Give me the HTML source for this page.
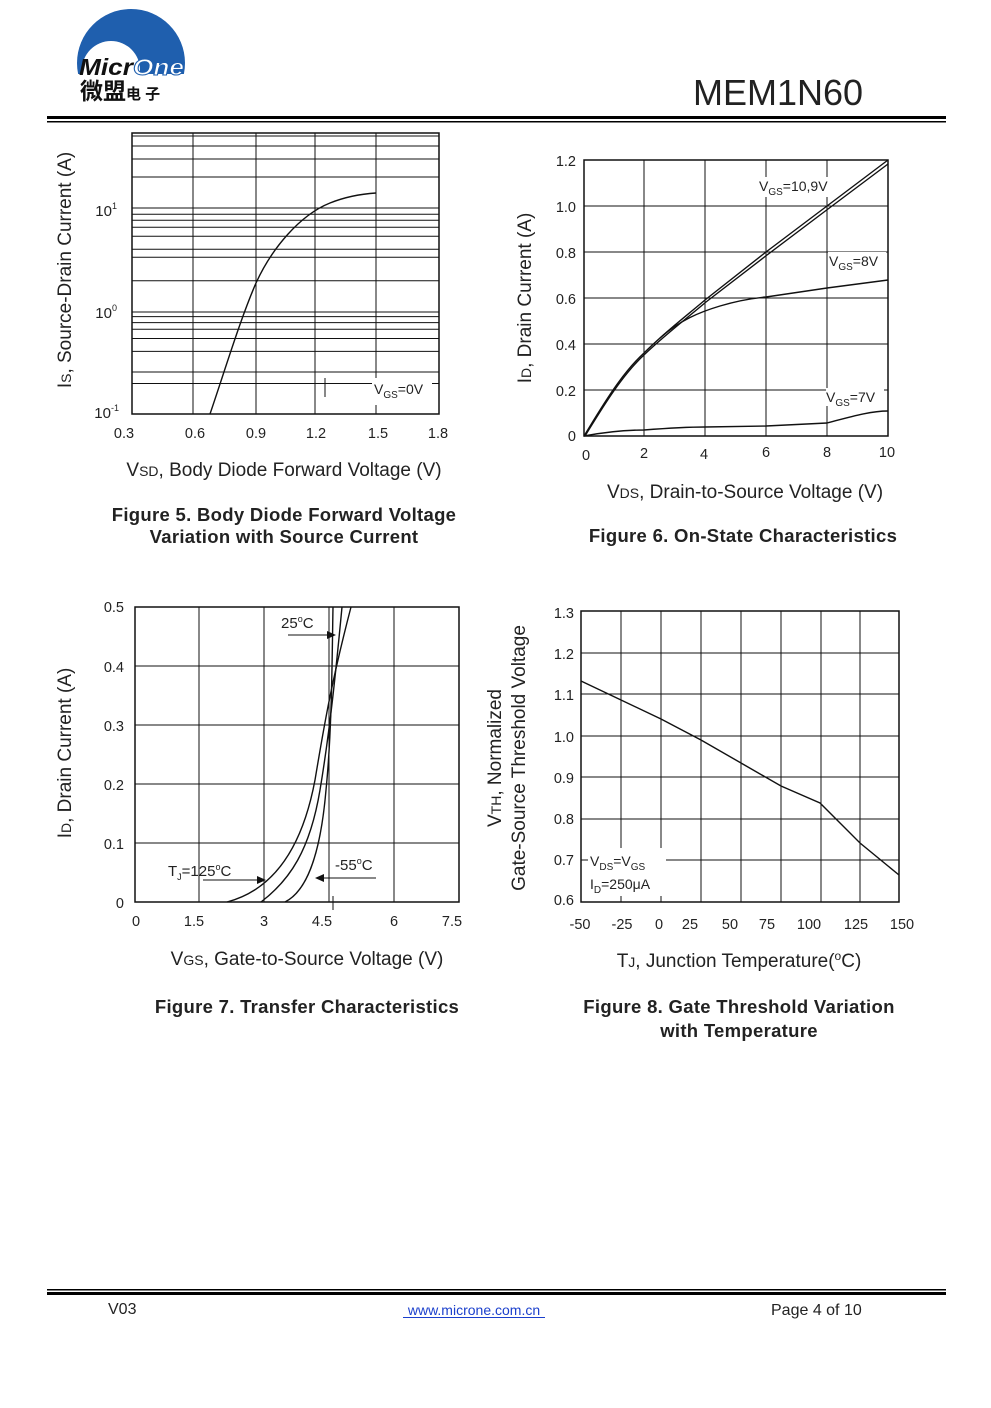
<!DOCTYPE html>
<html><head><meta charset="utf-8"><style>
body{margin:0;background:#fff;}
svg text{font-family:"Liberation Sans","Noto Sans CJK SC",sans-serif;fill:#222;}
.ax{font-size:19px;}
.tt{font-size:18.5px;font-weight:bold;letter-spacing:0.3px;}
.tk{font-size:14.5px;}
</style></head><body>
<svg width="991" height="1403" viewBox="0 0 991 1403" xmlns="http://www.w3.org/2000/svg">
<defs><clipPath id="lc"><rect x="60" y="0" width="140" height="74"/></clipPath></defs>
<!-- logo -->
<g clip-path="url(#lc)">
<circle cx="131" cy="63" r="54" fill="#1f5fae"/>
<circle cx="111" cy="70" r="29" fill="#fff"/>
</g>
<text x="79" y="75" font-size="23" font-weight="bold" font-style="italic" textLength="105" lengthAdjust="spacingAndGlyphs" style="fill:#111">Micr<tspan style="fill:#fff" stroke="#1f5fae" stroke-width="1">One</tspan></text>
<text x="80" y="99" font-size="23" font-weight="bold" style="fill:#111">微盟<tspan font-size="15">电 子</tspan></text>
<text x="693" y="105" font-size="36">MEM1N60</text>
<rect x="47" y="116" width="899" height="3" fill="#000"/>
<rect x="47" y="121" width="899" height="1.5" fill="#000"/>

<!-- Fig5 -->
<g stroke="#111" stroke-width="1" fill="none">
<rect x="132" y="133" width="307" height="281" stroke-width="1.5"/>
<path d="M193 133V414M256 133V414M315 133V414M376 133V390M376 405V414"/>
<path d="M132 208H439M132 312H439M132 214.3H439M132 220.3H439M132 227.3H439M132 236.3H439M132 249.3H439M132 257.2H439M132 280.7H439M132 316.6H439M132 322.6H439M132 329.3H439M132 338.5H439M132 351.4H439M132 372H439M132 383.5H439M132 177H439M132 159H439M132 146H439M132 136H439"/>
<path d="M325 378V397" />
<path d="M210 414 C225 370 240 320 256 283 C272 248 300 215 330 203 C345 197 360 194 376 193" stroke-width="1.4"/>
</g>
<rect x="372" y="378" width="60" height="22" fill="#fff"/>
<text x="374" y="394" font-size="14">V<tspan font-size="10" dy="4">GS</tspan><tspan dy="-4">=0V</tspan></text>
<g font-size="15" text-anchor="end">
<text x="117" y="216">10<tspan font-size="9" dy="-7">1</tspan></text>
<text x="117" y="318">10<tspan font-size="9" dy="-7">0</tspan></text>
<text x="119" y="418">10<tspan font-size="9" dy="-7">-1</tspan></text>
</g>
<g class="tk" text-anchor="middle">
<text x="124" y="438">0.3</text><text x="195" y="438">0.6</text><text x="256" y="438">0.9</text><text x="316" y="438">1.2</text><text x="378" y="438">1.5</text><text x="438" y="438">1.8</text>
</g>
<text x="284" y="476" class="ax" text-anchor="middle">V<tspan font-size="14">SD</tspan>, Body Diode Forward Voltage (V)</text>
<text transform="translate(71,270) rotate(-90)" class="ax" text-anchor="middle">I<tspan font-size="14">S</tspan>, Source-Drain Current (A)</text>
<text x="284" y="521" class="tt" text-anchor="middle">Figure 5. Body Diode Forward Voltage</text>
<text x="284" y="543" class="tt" text-anchor="middle">Variation with Source Current</text>

<!-- Fig6 -->
<g stroke="#111" stroke-width="1" fill="none">
<rect x="584" y="160" width="304" height="276" stroke-width="1.5"/>
<path d="M644 160V436M705 160V436M766 160V436M827 160V436"/>
<path d="M584 206H888M584 252H888M584 298H888M584 344H888M584 390H888"/>
<g stroke-width="1.4">
<path d="M584 436 C600 410 620 375 644 353 C665 332 685 317 705 300 L766 252 L827 206 L888 160"/>
<path d="M585 436 C601 410 621 376 645 354 C666 334 686 319 706 302 L767 255 L828 209 L888 164"/>
<path d="M660 338 C680 320 700 312 720 306 C740 300 755 298 766 297 L827 288 L888 280"/>
<path d="M584 436 C600 433 620 430 644 430 C670 428 690 427 705 427 L766 426 L827 423 C850 417 870 411 888 411"/>
</g>
</g>
<rect x="757" y="177" width="74" height="20" fill="#fff"/>
<text x="759" y="191" font-size="14">V<tspan font-size="10" dy="4">GS</tspan><tspan dy="-4">=10,9V</tspan></text>
<rect x="828" y="252" width="58" height="20" fill="#fff"/>
<text x="829" y="266" font-size="14">V<tspan font-size="10" dy="4">GS</tspan><tspan dy="-4">=8V</tspan></text>
<rect x="826" y="388" width="58" height="18" fill="#fff"/>
<text x="826" y="402" font-size="14">V<tspan font-size="10" dy="4">GS</tspan><tspan dy="-4">=7V</tspan></text>
<g class="tk" text-anchor="end">
<text x="576" y="166">1.2</text><text x="576" y="212">1.0</text><text x="576" y="258">0.8</text><text x="576" y="304">0.6</text><text x="576" y="350">0.4</text><text x="576" y="396">0.2</text><text x="576" y="441">0</text>
</g>
<g class="tk" text-anchor="middle">
<text x="586" y="460">0</text><text x="644" y="458">2</text><text x="704" y="459">4</text><text x="766" y="457">6</text><text x="827" y="457">8</text><text x="887" y="457">10</text>
</g>
<text x="745" y="498" class="ax" text-anchor="middle">V<tspan font-size="14">DS</tspan>, Drain-to-Source Voltage (V)</text>
<text transform="translate(531,298) rotate(-90)" class="ax" text-anchor="middle">I<tspan font-size="14">D</tspan>, Drain Current (A)</text>
<text x="743" y="542" class="tt" text-anchor="middle">Figure 6. On-State Characteristics</text>

<!-- Fig7 -->
<g stroke="#111" stroke-width="1" fill="none">
<rect x="135" y="607" width="324" height="295" stroke-width="1.5"/>
<path d="M199 607V902M264 607V902M329 607V902M394 607V902"/>
<path d="M135 666H459M135 725H459M135 784H459M135 843H459"/>
<g stroke-width="1.4">
<path d="M227 902 C265 892 300 860 315 780 C325 720 332 680 351 607"/>
<path d="M261 902 C290 880 310 850 320 790 C330 730 336 670 342 607"/>
<path d="M285 902 C305 892 320 860 326 790 C332 730 332 660 333 607"/>
</g>
<path d="M333 896V910"/>
<path d="M288 635H330M203 880H262M320 878H376"/>
</g>
<path d="M336 635l-9-4v8z M266 880l-9-4v8z M315 878l9-4v8z" fill="#111"/>
<text x="281" y="628" font-size="15">25<tspan font-size="9" dy="-6">o</tspan><tspan dy="6">C</tspan></text>
<text x="168" y="876" font-size="15">T<tspan font-size="9" dy="4">J</tspan><tspan dy="-4">=125</tspan><tspan font-size="9" dy="-6">o</tspan><tspan dy="6">C</tspan></text>
<text x="335" y="870" font-size="15">-55<tspan font-size="9" dy="-6">o</tspan><tspan dy="6">C</tspan></text>
<g class="tk" text-anchor="end">
<text x="124" y="612">0.5</text><text x="124" y="672">0.4</text><text x="124" y="731">0.3</text><text x="124" y="790">0.2</text><text x="124" y="849">0.1</text><text x="124" y="908">0</text>
</g>
<g class="tk" text-anchor="middle">
<text x="136" y="926">0</text><text x="194" y="926">1.5</text><text x="264" y="926">3</text><text x="322" y="926">4.5</text><text x="394" y="926">6</text><text x="452" y="926">7.5</text>
</g>
<text x="307" y="965" class="ax" text-anchor="middle">V<tspan font-size="14">GS</tspan>, Gate-to-Source Voltage (V)</text>
<text transform="translate(71,753) rotate(-90)" class="ax" text-anchor="middle">I<tspan font-size="14">D</tspan>, Drain Current (A)</text>
<text x="307" y="1013" class="tt" text-anchor="middle">Figure 7. Transfer Characteristics</text>

<!-- Fig8 -->
<g stroke="#111" stroke-width="1" fill="none">
<rect x="581" y="611" width="318" height="291" stroke-width="1.5"/>
<path d="M621 611V902M661 611V902M701 611V902M741 611V902M781 611V902M821 611V902M860 611V902"/>
<path d="M581 653H899M581 694H899M581 736H899M581 777H899M581 819H899M581 860H899"/>
<path d="M581 681 L621 700 L661 719 L701 740 L741 763 L781 786 L820 803 L860 843 L899 875" stroke-width="1.4"/>
</g>
<rect x="588" y="848" width="78" height="48" fill="#fff"/>
<text x="590" y="866" font-size="14">V<tspan font-size="10" dy="4">DS</tspan><tspan dy="-4">=V</tspan><tspan font-size="10" dy="4">GS</tspan></text>
<text x="590" y="889" font-size="14">I<tspan font-size="10" dy="4">D</tspan><tspan dy="-4">=250μA</tspan></text>
<g class="tk" text-anchor="end">
<text x="574" y="618">1.3</text><text x="574" y="659">1.2</text><text x="574" y="700">1.1</text><text x="574" y="742">1.0</text><text x="574" y="783">0.9</text><text x="574" y="824">0.8</text><text x="574" y="865">0.7</text><text x="574" y="905">0.6</text>
</g>
<g class="tk" text-anchor="middle">
<text x="580" y="929">-50</text><text x="622" y="929">-25</text><text x="659" y="929">0</text><text x="690" y="929">25</text><text x="730" y="929">50</text><text x="767" y="929">75</text><text x="809" y="929">100</text><text x="856" y="929">125</text><text x="902" y="929">150</text>
</g>
<text x="739" y="967" class="ax" text-anchor="middle">T<tspan font-size="14">J</tspan>, Junction Temperature(<tspan font-size="12" dy="-7">o</tspan><tspan dy="7">C)</tspan></text>
<text transform="translate(501,758) rotate(-90)" class="ax" text-anchor="middle">V<tspan font-size="14">TH</tspan>, Normalized</text>
<text transform="translate(525,758) rotate(-90)" class="ax" text-anchor="middle">Gate-Source Threshold Voltage</text>
<text x="739" y="1013" class="tt" text-anchor="middle">Figure 8. Gate Threshold Variation</text>
<text x="739" y="1037" class="tt" text-anchor="middle">with Temperature</text>

<!-- footer -->
<rect x="47" y="1289" width="899" height="1.5" fill="#000"/>
<rect x="47" y="1292" width="899" height="3" fill="#000"/>
<text x="108" y="1314" font-size="16">V03</text>
<text x="474" y="1315" font-size="14" text-anchor="middle" style="fill:#1a3fcc">www.microne.com.cn</text>
<rect x="403" y="1317" width="142" height="1" fill="#1a3fcc"/>
<text x="771" y="1315" font-size="16">Page 4 of 10</text>
</svg>
</body></html>
